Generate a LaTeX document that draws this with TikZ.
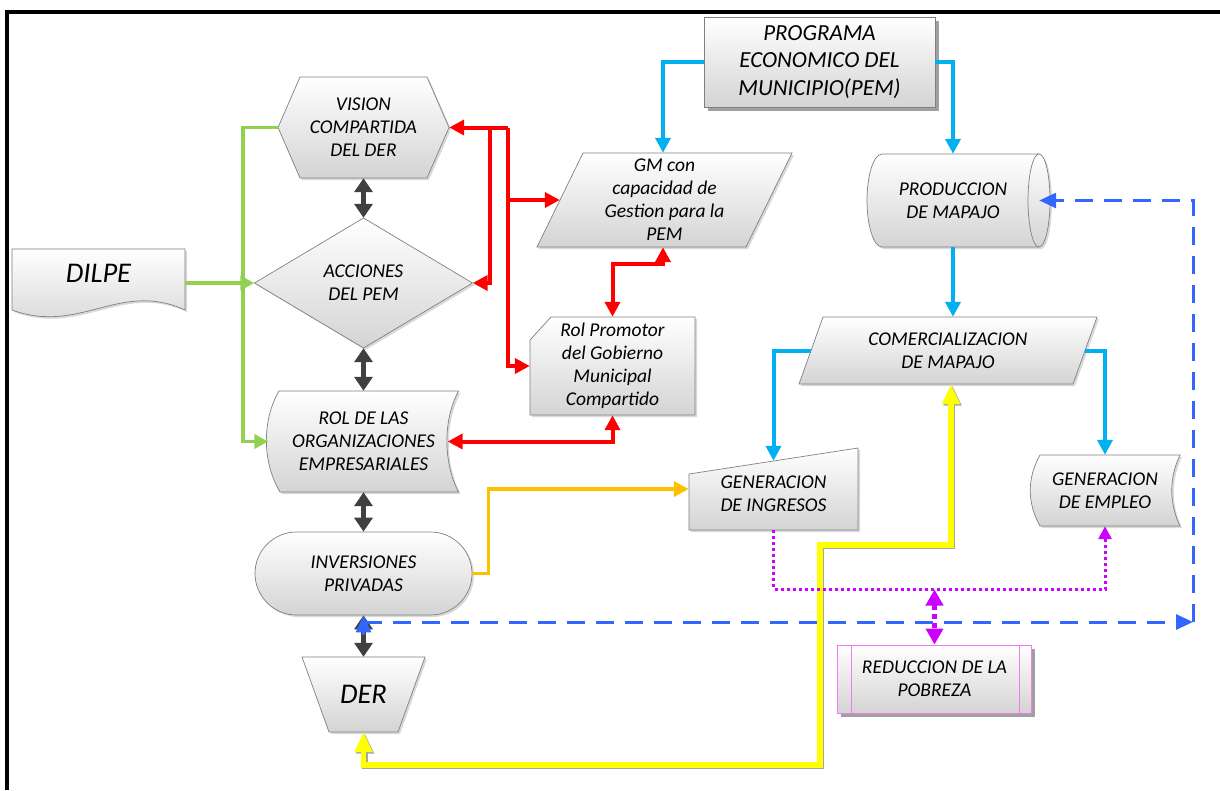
\documentclass[tikz,border=0pt]{standalone}
\usepackage{fontspec}
\setmainfont{Carlito}
\usetikzlibrary{arrows.meta,calc,shadows}
\definecolor{cgreen}{HTML}{92D050}
\definecolor{cred}{HTML}{FF0000}
\definecolor{ccyan}{HTML}{00B0F0}
\definecolor{corange}{HTML}{FFC000}
\definecolor{cyellow}{HTML}{FFFF00}
\definecolor{cmag}{HTML}{CC00FF}
\definecolor{cblue}{HTML}{3366FF}
\definecolor{cdark}{HTML}{404040}
\definecolor{cborder}{HTML}{808080}
\definecolor{cpinkb}{HTML}{F07CF0}
\begin{document}
\begin{tikzpicture}[x=1pt,y=-1pt,
  shp/.style={draw=cborder, line width=0.7pt, top color=white, bottom color=black!17,
     drop shadow={shadow xshift=2pt, shadow yshift=-2pt, opacity=0.3}},
  shpdark/.style={draw=cborder, line width=0.7pt, top color=white, bottom color=black!17,
     drop shadow={shadow xshift=3.5pt, shadow yshift=-3.5pt, opacity=0.75}},
  txt/.style={inner sep=0pt, align=center, text=black, font=\fontsize{19.5}{23}\selectfont\itshape},
  big/.style={inner sep=0pt, align=center, text=black, font=\fontsize{28.5}{32}\selectfont\itshape},
  gline/.style={cgreen, line width=3.5pt, >={Triangle[width=14pt,length=14pt]}},
  dline/.style={cdark, line width=5pt, >={Triangle[width=18pt,length=14pt]}, <->},
  rline/.style={cred, line width=4pt, >={Triangle[width=15pt,length=15pt]}},
  cline/.style={ccyan, line width=4pt, >={Triangle[width=15pt,length=15pt]}},
  oline/.style={corange, line width=3.5pt, >={Triangle[width=15pt,length=15pt]}},
  yline/.style={cyellow, line width=5.5pt, >={Triangle[width=17pt,length=20pt]},
     preaction={draw=black!35, line width=5.5pt, transform canvas={shift={(1.5pt,-1.5pt)}}}},
  mline/.style={cmag, line width=3pt, dash pattern=on 3pt off 3pt, >={Triangle[width=13pt,length=13pt]}},
  mlinetwo/.style={cmag, line width=4.5pt, dash pattern=on 5pt off 4pt, >={Triangle[width=17pt,length=16pt]}},
  bline/.style={cblue, line width=3pt, dash pattern=on 18pt off 11pt, >={Triangle[width=15pt,length=17pt]}},
]
\useasboundingbox (0,0) rectangle (1220,790);

% frame
\draw[line width=4pt] (7,790) -- (7,12) -- (1220,12);

% PROGRAMA
\node[shpdark, txt, font=\fontsize{23}{27.5}\selectfont\itshape, minimum width=231pt, minimum height=90pt] (pem) at (819.5,62) {PROGRAMA\\ECONOMICO DEL\\MUNICIPIO(PEM)};

% VISION
\path[shp] (278,127.5) -- (300,77) -- (427,77) -- (449,127.5) -- (427,178) -- (300,178) -- cycle;
\node[txt, minimum width=171pt, minimum height=101pt] (vis) at (363.5,127.5) {VISION\\COMPARTIDA\\DEL DER};

% ACCIONES
\path[shp] (363.5,218) -- (472.5,283) -- (363.5,348) -- (254.5,283) -- cycle;
\node[txt, minimum width=218pt, minimum height=130pt] (acc) at (363.5,283) {ACCIONES\\DEL PEM};

% DILPE
\path[shp] (12,249) -- (185,249) -- (185,310) .. controls (120,280) and (80,335) .. (12,310) -- cycle;
\node[big, minimum width=173pt, minimum height=48pt] (dilpe) at (98.5,273) {DILPE};

% ROL DE LAS ORGANIZACIONES
\path[shp] (279,391) -- (458.5,391) .. controls (443,420) and (443,462) .. (458.5,492) -- (280,492) .. controls (262,462) and (262,420) .. (279,391) -- cycle;
\node[txt, minimum width=190pt, minimum height=101pt] (rol) at (363.5,441.5) {ROL DE LAS\\ORGANIZACIONES\\EMPRESARIALES};

% INVERSIONES
\node[shp, txt, rounded corners=41.5pt, minimum width=217pt, minimum height=83pt] (inv) at (363.5,573.5) {INVERSIONES\\PRIVADAS};

% DER
\path[shp] (302,657) -- (425,657) -- (398,732) -- (329,732) -- cycle;
\node[big, minimum width=123pt, minimum height=75pt] (der) at (363.5,694.5) {DER};

% GM
\path[shp] (583,153) -- (792,153) -- (746,247) -- (537,247) -- cycle;
\node[txt, minimum width=255pt, minimum height=94pt] (gm) at (664.5,200) {GM con\\capacidad de\\Gestion para la\\PEM};

% PRODUCCION
\path[shp] (882,154) -- (1039,154) .. controls (1045.1,154) and (1050,175) .. (1050,200.5) .. controls (1050,226) and (1045.1,247) .. (1039,247) -- (882,247) .. controls (873.7,247) and (867,226) .. (867,200.5) .. controls (867,175) and (873.7,154) .. (882,154) -- cycle;
\draw[cborder, line width=0.7pt] (1039,154) .. controls (1032.9,154) and (1028,175) .. (1028,200.5) .. controls (1028,226) and (1032.9,247) .. (1039,247);
\node[txt, minimum width=172pt, minimum height=93pt] (prod) at (953,200.5) {PRODUCCION\\DE MAPAJO};

% Rol Promotor
\path[shp] (551,317) -- (695,317) -- (695,415) -- (530,415) -- (530,340) -- cycle;
\node[txt, minimum width=165pt, minimum height=98pt] (rolp) at (612.5,366) {Rol Promotor\\del Gobierno\\Municipal\\Compartido};

% COMERCIALIZACION
\path[shp] (823,317) -- (1097,317) -- (1073,384) -- (799,384) -- cycle;
\node[txt, minimum width=298pt, minimum height=67pt] (com) at (948,350.5) {COMERCIALIZACION\\DE MAPAJO};

% GENERACION DE INGRESOS
\path[shp] (689,474) -- (858,448) -- (858,530) -- (689,530) -- cycle;
\node[txt, minimum width=169pt, minimum height=82pt] (gi) at (773.5,489) {\mbox{}\\GENERACION\\DE INGRESOS};

% GENERACION DE EMPLEO
\path[shp] (1040,455) -- (1180,455) .. controls (1169,478) and (1169,503) .. (1180,526) -- (1040,526) .. controls (1027,503) and (1027,478) .. (1040,455) -- cycle;
\node[txt, minimum width=150pt, minimum height=71pt] (ge) at (1105,490.5) {GENERACION\\DE EMPLEO};

% REDUCCION
\node[shpdark, draw=cpinkb, line width=1pt, txt, minimum width=194pt, minimum height=68pt] (red) at (934.5,679) {REDUCCION DE LA\\POBREZA};
\draw[cpinkb, line width=0.9pt] ([xshift=14pt]red.north west) -- ([xshift=14pt]red.south west);
\draw[cpinkb, line width=0.9pt] ([xshift=-13pt]red.north east) -- ([xshift=-13pt]red.south east);

% ---------- connectors ----------
% green
\draw[gline,->] (vis.west) -- ++(-35,0) |- (rol.west);
\draw[gline,->] (dilpe.east |- acc.west) -- (acc.west);

% dark double arrows
\draw[dline] (vis.south) -- (acc.north);
\draw[dline] (acc.south) -- (rol.north);
\draw[dline] (rol.south) -- (inv.north);
\draw[dline] (inv.south) -- (der.north);

% red
\coordinate (ra) at (508,127.5);
\coordinate (rb) at (490,127.5);
\draw[rline,->] (ra) -- (vis.east);
\draw[rline,->] (rb) |- (acc.east);
\draw[rline,->] (ra) |- (rolp.west);
\draw[rline,->] (ra |- gm.west) -- ($(gm.west)+(23,0)$);
\draw[rline,<->] ($(gm.south)+(-1.5,0)$) -- ++(0,17) -| (rolp.north);
\draw[rline,<->] ($(rol.east)+(-11,0)$) -| (rolp.south);

% cyan
\draw[cline,->] (pem.west) -| ($(gm.north)+(-1.5,0)$);
\draw[cline,->] (pem.east) -| (prod.north);
\draw[cline,->] (prod.south) -- (prod.south |- com.north);
\draw[cline,->] ($(com.west)+(12,0)$) -| ($(gi.north)+(0,13)$);
\draw[cline,->] ($(com.east)+(-12,0)$) -| (ge.north);

% orange
\draw[oline,->] (inv.east) -- ++(16,0) |- (gi.west);

% yellow
\draw[yline,<->] ($(com.south)+(3,0)$) -- ++(0,161) -- ++(-131,0) -- ++(0,220) -| (der.south);

% magenta
\draw[mline,->] (gi.south) -- ++(0,59) -| (ge.south);
\path (red.north) ++(0,-55) coordinate (mj);
\draw[mlinetwo,<->] (mj) -- (red.north);

% blue dashed
\coordinate (bc) at (1193,622);
\draw[bline,<-] (inv.south) -- ++(0,20);
\draw[bline,->] (inv.south |- bc) -- (bc);
\draw[bline,->] (bc) |- (prod.east);

\end{tikzpicture}
\end{document}
